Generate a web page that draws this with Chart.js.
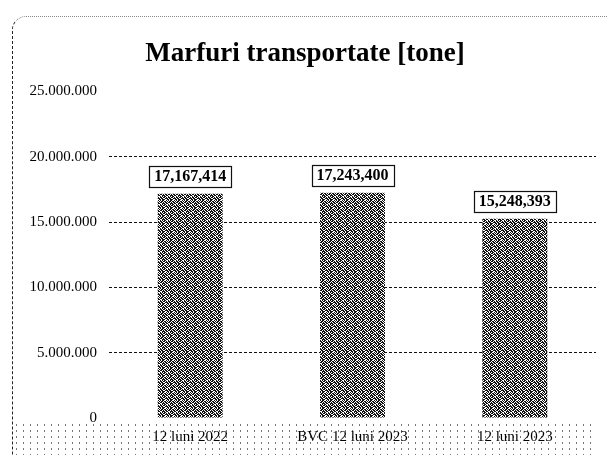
<!DOCTYPE html>
<html>
<head>
<meta charset="utf-8">
<script src="https://cdn.jsdelivr.net/npm/chart.js@4"></script>
<style>
  html, body { margin: 0; padding: 0; background: #fff; }
  #wrap { position: relative; width: 607px; height: 455px; }
  #frame {
    position: absolute; left: 12px; top: 16px; width: 600px; height: 450px;
    border-left: 1px dashed #222; border-top: 1px dotted #888;
    border-top-left-radius: 14px; pointer-events: none;
  }
  #speckle {
    position: absolute; left: 13px; top: 422px; width: 580px; height: 33px;
    background-image: radial-gradient(circle, #777 0.7px, transparent 1px);
    background-size: 7px 6px; pointer-events: none;
  }
  canvas { position: relative; z-index: 1; }
</style>
</head>
<body>
<div id="wrap">
  <div id="speckle"></div>
  <canvas id="chart" width="607" height="455"></canvas>
  <div id="frame"></div>
</div>
<script>
const categories = ['12 luni 2022', 'BVC 12 luni 2023', '12 luni 2023'];
const tonnes = [17167414, 17243400, 15248393];
const yTicks = [0, 5000000, 10000000, 15000000, 20000000, 25000000];

const serif = '"Liberation Serif", "Times New Roman", serif';

// grey dither like the scan
function makePattern() {
  const rows = [
    '10110010',
    '01101101',
    '11010110',
    '00111011',
    '10101100',
    '11011010',
    '01100111',
    '10111001'
  ];
  const c = document.createElement('canvas');
  c.width = 8; c.height = 8;
  const g = c.getContext('2d');
  g.fillStyle = '#fff';
  g.fillRect(0, 0, 8, 8);
  g.fillStyle = '#111';
  rows.forEach((r, y) => {
    for (let x = 0; x < 8; x++) if (r[x] === '1') g.fillRect(x, y, 1, 1);
  });
  return document.getElementById('chart').getContext('2d').createPattern(c, 'repeat');
}

function dots(n) {
  return String(n).replace(/\B(?=(\d{3})+(?!\d))/g, '.');
}
function commas(n) {
  return String(n).replace(/\B(?=(\d{3})+(?!\d))/g, ',');
}

// boxed value labels above each bar
const boxLabels = {
  id: 'boxLabels',
  afterDatasetsDraw(chart) {
    const ctx = chart.ctx;
    const meta = chart.getDatasetMeta(0);
    ctx.save();
    ctx.font = 'bold 16px ' + serif;
    ctx.textAlign = 'center';
    ctx.textBaseline = 'middle';
    meta.data.forEach((bar, i) => {
      const text = commas(tonnes[i]);
      const w = ctx.measureText(text).width + 10;
      const h = 21;
      const bottom = bar.y - 7;
      ctx.fillStyle = '#fff';
      ctx.fillRect(bar.x - w / 2, bottom - h, w, h);
      ctx.strokeStyle = '#111';
      ctx.lineWidth = 1.2;
      ctx.strokeRect(Math.round(bar.x - w / 2) + 0.5, Math.round(bottom - h) + 0.5, Math.round(w), h);
      ctx.fillStyle = '#000';
      ctx.fillText(text, bar.x, bottom - h / 2 + 1);
    });
    ctx.restore();
  }
};

const chart = new Chart(document.getElementById('chart'), {
  type: 'bar',
  data: {
    labels: categories,
    datasets: [{
      data: tonnes,
      backgroundColor: makePattern(),
      borderWidth: 0,
      categoryPercentage: 1,
      barPercentage: 0.4
    }]
  },
  options: {
    responsive: false,
    animation: false,
    layout: { padding: { left: 14, right: 11, top: 18, bottom: 8 } },
    plugins: {
      legend: { display: false },
      tooltip: { enabled: false },
      title: {
        display: true,
        text: 'Marfuri transportate [tone]',
        color: '#000',
        font: { family: serif, size: 27, weight: 'bold' },
        padding: { top: 20, bottom: 21 }
      }
    },
    scales: {
      x: {
        grid: { display: false, drawTicks: false },
        border: { display: false },
        ticks: { color: '#000', padding: 10, font: { family: serif, size: 15 } },
        afterFit(scale) { scale.height = 29; }
      },
      y: {
        min: 0,
        max: 25000000,
        afterBuildTicks(scale) { scale.ticks = yTicks.map(v => ({ value: v })); },
        grid: {
          drawTicks: false,
          color: ctx => (ctx.tick && (ctx.tick.value === 0 || ctx.tick.value === 25000000)) ? 'rgba(0,0,0,0)' : '#111',
          lineWidth: 1,
          tickBorderDash: [3, 2]
        },
        border: { display: false, dash: [3, 2] },
        ticks: {
          color: '#000',
          padding: 12,
          font: { family: serif, size: 15 },
          callback: v => dots(v)
        },
        afterFit(scale) { scale.width = 95; }
      }
    }
  },
  plugins: [boxLabels]
});
</script>
</body>
</html>
